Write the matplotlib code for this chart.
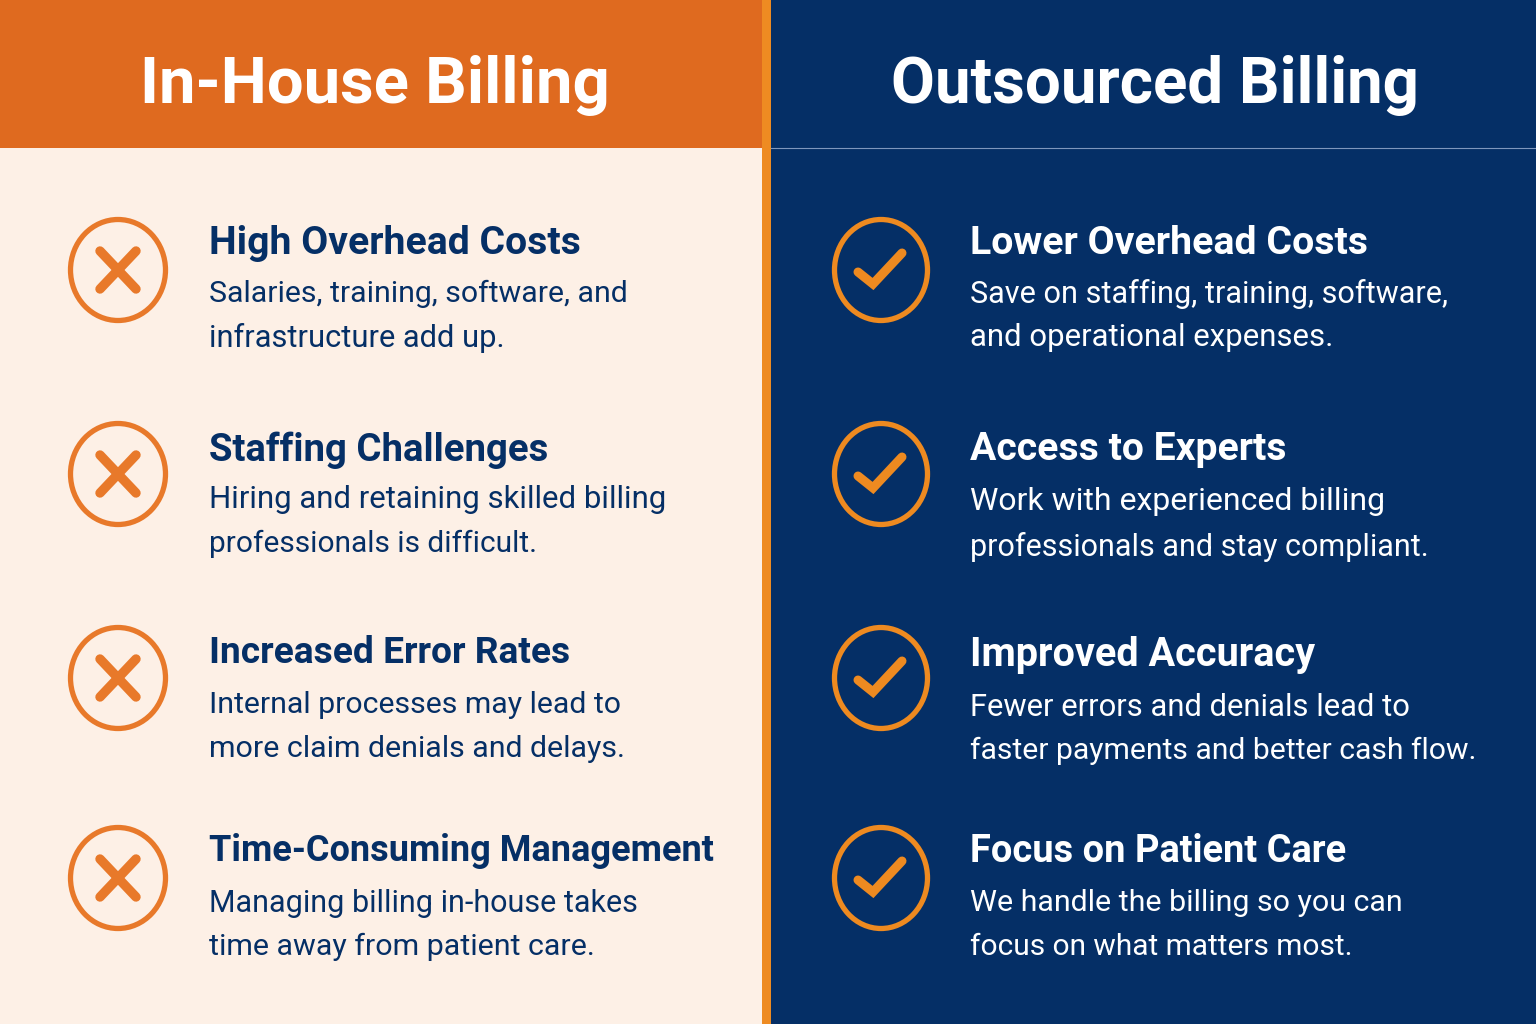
import matplotlib
matplotlib.use("Agg")
import matplotlib.pyplot as plt
from matplotlib.patches import Rectangle, Ellipse

left_title = "In-House Billing"
right_title = "Outsourced Billing"
left_heads = ["High Overhead Costs", "Staffing Challenges", "Increased Error Rates", "Time-Consuming Management"]
left_bodies = [["Salaries, training, software, and", "infrastructure add up."],
               ["Hiring and retaining skilled billing", "professionals is difficult."],
               ["Internal processes may lead to", "more claim denials and delays."],
               ["Managing billing in-house takes", "time away from patient care."]]
right_heads = ["Lower Overhead Costs", "Access to Experts", "Improved Accuracy", "Focus on Patient Care"]
right_bodies = [["Save on staffing, training, software,", "and operational expenses."],
                ["Work with experienced billing", "professionals and stay compliant."],
                ["Fewer errors and denials lead to", "faster payments and better cash flow."],
                ["We handle the billing so you can", "focus on what matters most."]]
left_y = [(244, 294, 338), (450, 500, 544), (653, 705, 749), (851, 903, 947)]
right_y = [(244, 294, 338), (450, 502, 547), (655, 707, 751), (851, 903, 947)]
left_head_size = [28.2, 27.6, 26.7, 26.0]
right_head_size = [28.3, 28.2, 28.5, 27.4]
left_body_size = [[21.8, 22.2], [22.4, 21.5], [21.8, 21.9], [22.0, 21.9]]
right_body_size = [[22.1, 22.4], [23.0, 22.0], [22.3, 21.7], [21.9, 21.5]]
icon_y = [270, 474, 678, 878]

ORANGE = "#DF6A1F"; ICON_L = "#E8792A"; ICON_R = "#EE8A20"; NAVY = "#052F66"; CREAM = "#FDF0E6"; BAR = "#EE8B22"

fig = plt.figure(figsize=(15.36, 10.24), dpi=100)
ax = fig.add_axes([0, 0, 1, 1])
ax.set_xlim(0, 1536); ax.set_ylim(1024, 0); ax.axis("off")

ax.add_patch(Rectangle((0, 0), 763, 1024, color=CREAM, lw=0))
ax.add_patch(Rectangle((0, 0), 763, 148, color=ORANGE, lw=0))
ax.add_patch(Rectangle((770, 0), 766, 1024, color=NAVY, lw=0))
ax.add_patch(Rectangle((762, 0), 9, 1024, color=BAR, lw=0))
ax.plot([771, 1536], [148, 148], color="#7F97BD", lw=0.8)

ax.text(375, 86, left_title, color="white", fontsize=47, fontweight="bold", family="Roboto", ha="center", va="center")
ax.text(1155, 86, right_title, color="white", fontsize=45.8, fontweight="bold", family="Roboto", ha="center", va="center")

def block(x, head, body, ys, col, hs, bs):
    ax.text(x, ys[0], head, color=col, fontsize=hs, fontweight="bold", family="Roboto", ha="left", va="center")
    for line, y, s in zip(body, ys[1:], bs):
        ax.text(x, y, line, color=col, fontsize=s, family="Roboto", ha="left", va="center")

for i in range(4):
    block(209, left_heads[i], left_bodies[i], left_y[i], NAVY, left_head_size[i], left_body_size[i])
    block(970, right_heads[i], right_bodies[i], right_y[i], "white", right_head_size[i], right_body_size[i])
    cy = icon_y[i]
    ax.add_patch(Ellipse((118, cy), 95, 101, fill=False, ec=ICON_L, lw=3.8))
    ax.add_patch(Ellipse((881, cy), 93, 101, fill=False, ec=ICON_R, lw=3.8))
    ax.plot([100, 136], [cy - 19, cy + 19], color=ICON_L, lw=6.8, solid_capstyle="round")
    ax.plot([100, 136], [cy + 19, cy - 19], color=ICON_L, lw=6.8, solid_capstyle="round")
    ax.plot([858, 873, 902], [cy + 2, cy + 14, cy - 17], color=ICON_R, lw=6.5, solid_capstyle="round", solid_joinstyle="miter")

fig.savefig("out.png", dpi=100)
